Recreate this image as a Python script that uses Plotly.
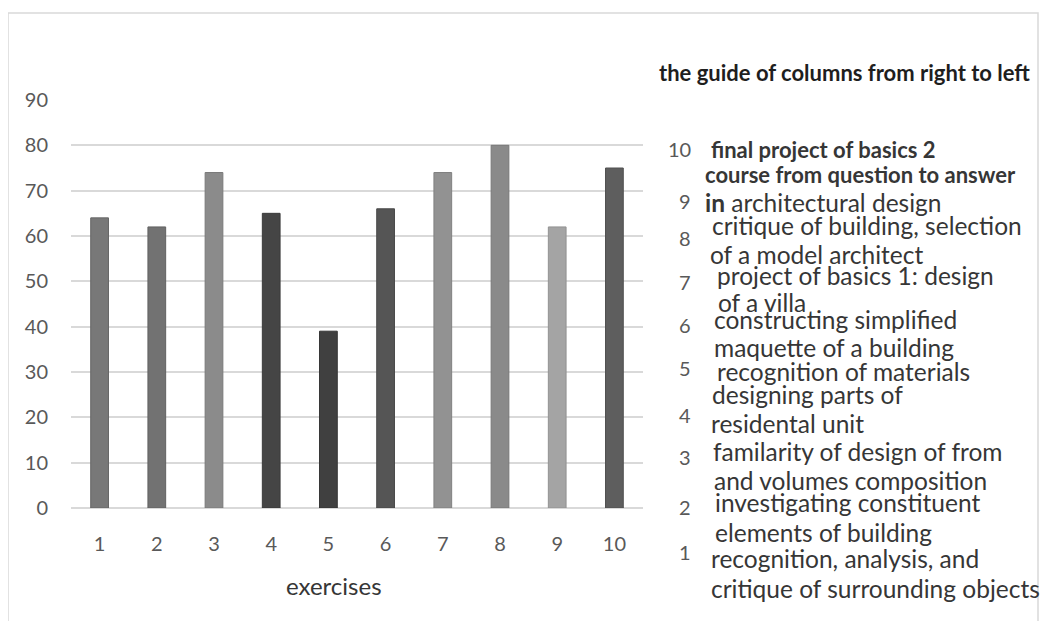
import plotly.graph_objects as go

# ---------------- data ----------------
exercises = [1, 2, 3, 4, 5, 6, 7, 8, 9, 10]
scores = [64, 62, 74, 65, 39, 66, 74, 80, 62, 75]
y_ticks = [0, 10, 20, 30, 40, 50, 60, 70, 80, 90]
x_title = "exercises"
guide_title = "the guide of columns from right to left"
guide_numbers = ["10", "9", "8", "7", "6", "5", "4", "3", "2", "1"]
guide_lines = [
    "<b>final project of basics 2</b>",
    "<b>course from question to answer</b>",
    "<b>in</b> architectural design",
    "critique of building, selection",
    "of a model architect",
    "project of basics 1: design",
    "of a villa",
    "constructing simplified",
    "maquette of a building",
    "recognition of materials",
    "designing parts of",
    "residental unit",
    "familarity of design of from",
    "and volumes composition",
    "investigating constituent",
    "elements of building",
    "recognition, analysis, and",
    "critique of surrounding objects",
]

# ---------------- styles / layout ----------------
bar_colors = ["#787878", "#727272", "#8b8b8b", "#454545", "#404040",
              "#555555", "#929292", "#8a8a8a", "#a4a4a4", "#5e5e5e"]
bar_edges = ["#666666", "#626262", "#7a7a7a", "#3a3a3a", "#353535",
             "#484848", "#808080", "#787878", "#929292", "#505050"]

OFF = 8  # default page body margin of the html page
W, H = 1051 - OFF, 621 - OFF
L, R, T, B = 71 - OFF, 408, 100 - OFF, 113
PW, PH = W - L - R, H - T - B


def px(x):
    """page pixel x -> paper fraction"""
    return (x - OFF - L) / PW


def py(y):
    """page pixel y -> paper fraction"""
    return (H - B - (y - OFF)) / PH


FONT = "Lato"
TEXT_COLOR = "#363636"
TICK_COLOR = "#595959"

# pixel anchors (page coords: left x, centre y) for guide text
guide_num_pos = [(693, 149), (693, 201), (693, 238), (693, 282), (693, 325),
                 (693, 368), (693, 415), (693, 457), (693, 507), (693, 552)]
guide_line_pos = [(709, 149), (703, 174), (703, 202), (710, 225), (708, 254),
                  (715, 275), (716, 302), (712, 319), (712, 347), (715, 371),
                  (710, 394), (709, 423), (711, 451), (712, 480), (713, 502),
                  (713, 532), (709, 558), (709, 588)]

fig = go.Figure()
fig.add_trace(go.Bar(
    x=exercises,
    y=scores,
    marker=dict(color=bar_colors, line=dict(color=bar_edges, width=1)),
    width=0.31,
    hoverinfo="x+y",
))

annotations = []
annotations.append(dict(
    x=px(657), y=py(72), xref="paper", yref="paper", xanchor="left", yanchor="middle",
    text="<b>" + guide_title + "</b>", showarrow=False,
    font=dict(family=FONT, size=22, color="#1e1e1e"),
))
for t, (ax, ay) in zip(guide_numbers, guide_num_pos):
    annotations.append(dict(
        x=px(ax), y=py(ay), xref="paper", yref="paper", xanchor="right", yanchor="middle",
        text=t, showarrow=False, font=dict(family=FONT, size=20, color=TICK_COLOR),
    ))
for t, (ax, ay) in zip(guide_lines, guide_line_pos):
    bold = t.startswith("<b>") and t.endswith("</b>")
    annotations.append(dict(
        x=px(ax), y=py(ay), xref="paper", yref="paper", xanchor="left", yanchor="middle",
        text=t, showarrow=False,
        font=dict(family=FONT, size=22 if bold else 24.5, color=TEXT_COLOR),
    ))
annotations.append(dict(
    x=px(334), y=py(585), xref="paper", yref="paper", xanchor="center", yanchor="middle",
    text=x_title, showarrow=False, font=dict(family=FONT, size=24, color=TEXT_COLOR),
))

fig.update_layout(
    width=W, height=H,
    margin=dict(l=L, r=R, t=T, b=B, pad=0),
    paper_bgcolor="white", plot_bgcolor="white",
    showlegend=False,
    font=dict(family=FONT, color=TICK_COLOR),
    annotations=annotations,
    shapes=[dict(type="rect", xref="paper", yref="paper",
                 x0=px(8), x1=px(1038), y0=py(640), y1=py(13),
                 line=dict(color="#d9d9d9", width=1.5), layer="below")],
    xaxis=dict(
        range=[0.5, 10.5], tickvals=exercises, ticktext=[str(e) for e in exercises],
        showgrid=False, zeroline=False, showline=False,
        ticks="outside", ticklen=18, tickcolor="rgba(0,0,0,0)",
        tickfont=dict(family=FONT, size=20, color=TICK_COLOR),
    ),
    yaxis=dict(
        range=[0, 90], tickvals=y_ticks,
        showgrid=True, gridcolor="#d9d9d9", gridwidth=1.5,
        zeroline=True, zerolinecolor="#d9d9d9", zerolinewidth=1.5,
        showline=False,
        ticks="outside", ticklen=18, tickcolor="rgba(0,0,0,0)",
        tickfont=dict(family=FONT, size=20, color=TICK_COLOR),
    ),
)

fig.write_html("out.html")
